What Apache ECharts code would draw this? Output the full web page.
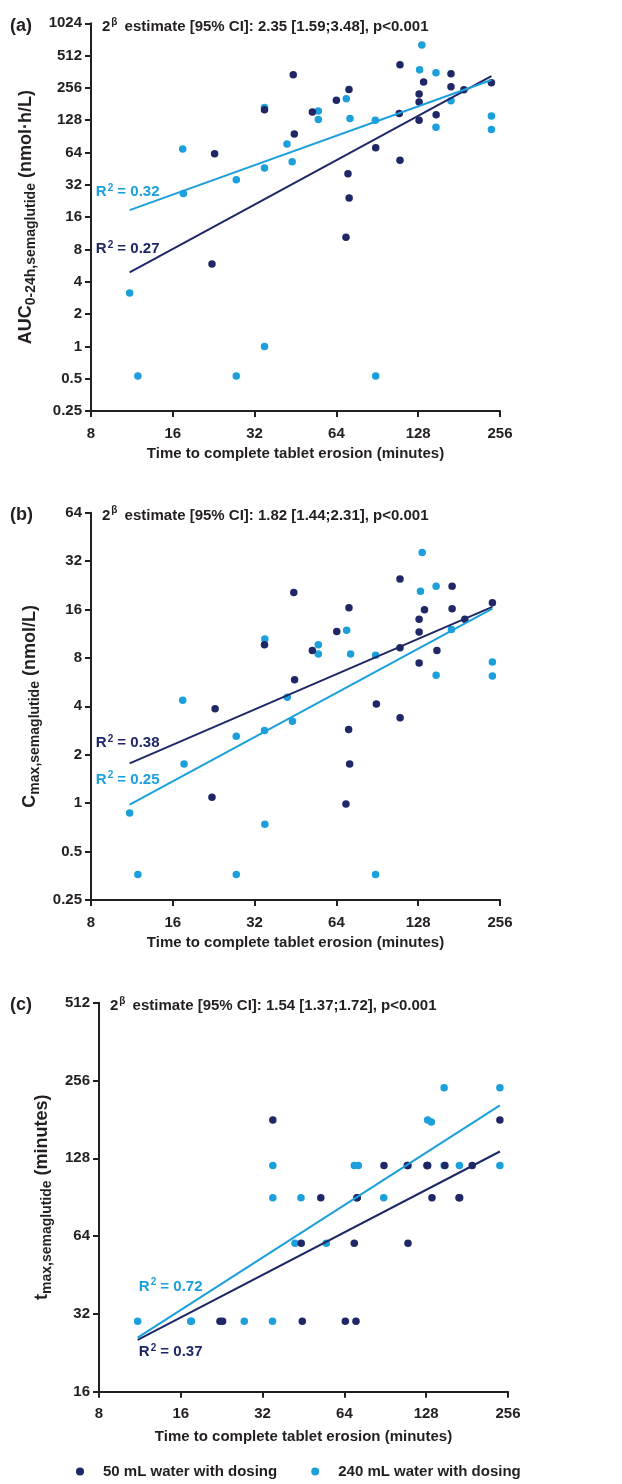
<!DOCTYPE html>
<html><head><meta charset="utf-8">
<script src="https://cdn.jsdelivr.net/npm/echarts@6/dist/echarts.min.js"></script>
<style>html,body{margin:0;padding:0;background:#fff}#c{width:622px;height:1484px}</style>
</head><body><div id="c"></div>
<script>
// ---- data ----
const seriesNames = ['50 mL water with dosing', '240 mL water with dosing'];
const xTicks = [8, 16, 32, 64, 128, 256];
const yTicksA = [0.25, 0.5, 1, 2, 4, 8, 16, 32, 64, 128, 256, 512, 1024];
const yTicksB = [0.25, 0.5, 1, 2, 4, 8, 16, 32, 64];
const yTicksC = [16, 32, 64, 128, 256, 512];
const panelLetters = ['(a)', '(b)', '(c)'];
const estimates = ['2.35 [1.59;3.48], p<0.001', '1.82 [1.44;2.31], p<0.001', '1.54 [1.37;1.72], p<0.001'];

// AUC0-24h (nmol·h/L) vs erosion time (min)
const auc50 = [[22.8,62.4],[44.4,340],[34.8,160],[44.8,95],[52.2,153],[64,197],[71.2,248],[70.6,40.6],[71.3,24.1],[89.3,71],[109.7,421],[109,148],[109.7,54.2],[129,225],[129,189],[129,128],[134,290],[149,144],[169,347],[169,263],[188.5,246],[238,286],[22.3,5.86],[69.4,10.4]];
const auc240 = [[17.4,69],[17.5,26.6],[27.4,35.6],[34.8,168],[34.8,46],[42.1,76.7],[44,52.5],[54.9,156],[54.9,130],[69.6,203],[71.8,133],[89,128],[132,642],[129.5,378],[148.8,354],[148.8,110],[169,194],[238,140],[238,105],[11.1,3.15],[11.9,0.53],[27.4,0.53],[34.8,1.0],[89.3,0.53]];
// Cmax (nmol/L)
const cmax50 = [[44.6,20.4],[34.8,9.67],[52.2,8.9],[44.9,5.86],[64.2,11.7],[71.2,16.4],[109.7,24.8],[109.7,9.26],[129,13.9],[129,11.6],[129,7.45],[135,15.96],[150,8.9],[170.6,22.3],[170.6,16.2],[190,13.9],[240,17.6],[22.9,3.87],[22.3,1.09],[89.8,4.13],[109.8,3.4],[71,2.87],[71.6,1.75],[69.4,0.99]];
const cmax240 = [[34.9,10.5],[54.9,9.67],[54.9,8.45],[69.8,11.9],[72.2,8.45],[89.2,8.3],[132.4,36.2],[130.5,20.8],[149,22.3],[149,6.24],[169.6,12.0],[240,7.55],[240,6.18],[17.4,4.36],[42.2,4.55],[27.4,2.61],[34.8,2.83],[44.1,3.23],[17.6,1.75],[11.1,0.87],[11.9,0.36],[27.4,0.36],[34.9,0.74],[89.2,0.36]];
// tmax (minutes)
const tmax50 = [[22.3,30],[22.8,30],[34.9,180],[44.4,60],[44.8,30],[52.4,90],[64.5,30],[69.6,60],[70.6,30],[71.2,90],[71.3,90],[89.5,120],[109,120],[109.7,120],[109.7,60],[129,120],[129,120],[129.6,120],[134.4,90],[150,120],[169,90],[170,90],[189,120],[239,180]];
const tmax240 = [[11.1,30],[17.4,30],[17.5,30],[27.4,30],[34.8,30],[34.9,120],[34.9,90],[42.1,60],[44.3,90],[54.9,60],[69.6,120],[72,120],[89.3,90],[129.6,180],[133.7,177],[149,240],[149,120],[169.6,120],[239,240],[239,120]];
// fitted regression lines (start, end)
const fitAuc50 = [[11.1,4.9],[238,330]];
const fitAuc240 = [[11.1,18.6],[238,303]];
const fitCmax50 = [[11.1,1.77],[240,16.6]];
const fitCmax240 = [[11.1,0.98],[240,16.2]];
const fitTmax50 = [[11.1,25.4],[239,136]];
const fitTmax240 = [[11.1,25.9],[239,205]];
const r2 = { auc50: '0.27', auc240: '0.32', cmax50: '0.38', cmax240: '0.25', tmax50: '0.37', tmax240: '0.72' };

// ---- style ----
const NAVY = '#1f2766';
const LIGHT = '#1ba0dc';
const FONT = '"Liberation Sans", Arial, sans-serif';
const BLACK = '#231f20';

const chart = echarts.init(document.getElementById('c'), null, {renderer: 'canvas'});

const grids = [
  {left: 91, top: 23.3, width: 409, height: 387.7},
  {left: 91, top: 512.7, width: 409, height: 387.3},
  {left: 99, top: 1002.7, width: 409, height: 389}
];
const yRanges = [yTicksA, yTicksB, yTicksC];

function fmt(v) { return String(+v.toPrecision(6)); }

const xNameGap = [35, 35, 38];
const xAxes = grids.map((g, i) => ({
  type: 'log', logBase: 2, gridIndex: i, min: xTicks[0], max: xTicks[xTicks.length - 1], interval: 1,
  axisLine: {lineStyle: {color: BLACK, width: 2}},
  axisTick: {length: 6, lineStyle: {color: BLACK, width: 2}},
  axisLabel: {margin: 15, color: BLACK, fontSize: 15, fontWeight: 'bold', fontFamily: FONT, formatter: fmt},
  splitLine: {show: false},
  name: 'Time to complete tablet erosion (minutes)', nameLocation: 'middle', nameGap: xNameGap[i],
  nameTextStyle: {color: BLACK, fontSize: 15, fontWeight: 'bold', fontFamily: FONT}
}));

const yNames = [
  '{m|AUC}{s|0-24h,semaglutide}{m| (nmol·h/L)}',
  '{m|C}{s|max,semaglutide}{m| (nmol/L)}',
  '{m|t}{s|max,semaglutide}{m| (minutes)}'
];
const yNameGap = [42, 42, 44];
const yAxes = grids.map((g, i) => ({
  type: 'log', logBase: 2, gridIndex: i, min: yRanges[i][0], max: yRanges[i][yRanges[i].length - 1], interval: 1,
  axisLine: {lineStyle: {color: BLACK, width: 2}},
  axisTick: {length: 6, lineStyle: {color: BLACK, width: 2}},
  axisLabel: {margin: 9, color: BLACK, fontSize: 15, fontWeight: 'bold', fontFamily: FONT, formatter: fmt},
  splitLine: {show: false},
  name: yNames[i], nameLocation: 'middle', nameRotate: 90, nameGap: yNameGap[i],
  nameTextStyle: {
    rich: {
      m: {fontSize: 18, fontWeight: 'bold', fontFamily: FONT, color: BLACK, lineHeight: 24, verticalAlign: 'middle'},
      s: {fontSize: 14, fontWeight: 'bold', fontFamily: FONT, color: BLACK, lineHeight: 24, verticalAlign: 'bottom'}
    }
  }
}));

function scatter(name, data, color, idx) {
  return {type: 'scatter', name, data, xAxisIndex: idx, yAxisIndex: idx, symbol: 'circle', symbolSize: 7.5,
    itemStyle: {color, opacity: 1}, emphasis: {disabled: true}, z: color === NAVY ? 3 : 2};
}
function fit(name, data, color, idx, r2txt, lab) {
  const d = data.map((p, k) => k === 0 ? {
    value: p,
    label: {show: true, position: lab.pos, distance: lab.dist, offset: lab.off, align: 'center',
      formatter: '{r|R}{s|2}{r| = ' + r2txt + '}',
      rich: {
        r: {fontSize: 15, fontWeight: 'bold', fontFamily: FONT, color, lineHeight: 18},
        s: {fontSize: 10, fontWeight: 'bold', fontFamily: FONT, color, lineHeight: 18, verticalAlign: 'top', padding: [0, 0, 6, 1]}
      }}
  } : {value: p});
  return {type: 'line', name, data: d, xAxisIndex: idx, yAxisIndex: idx, showSymbol: true, symbol: 'circle', symbolSize: 0.01,
    lineStyle: {color, width: 2}, itemStyle: {color}, emphasis: {disabled: true}, z: 4, silent: true, animation: false};
}

const series = [
  scatter(seriesNames[1], auc240, LIGHT, 0), scatter(seriesNames[0], auc50, NAVY, 0),
  scatter(seriesNames[1], cmax240, LIGHT, 1), scatter(seriesNames[0], cmax50, NAVY, 1),
  scatter(seriesNames[1], tmax240, LIGHT, 2), scatter(seriesNames[0], tmax50, NAVY, 2),
  fit('fitA50', fitAuc50, NAVY, 0, r2.auc50, {pos: 'top', dist: 14, off: [-2, 0]}),
  fit('fitA240', fitAuc240, LIGHT, 0, r2.auc240, {pos: 'top', dist: 9, off: [-2, 0]}),
  fit('fitB50', fitCmax50, NAVY, 1, r2.cmax50, {pos: 'top', dist: 11, off: [-2, 0]}),
  fit('fitB240', fitCmax240, LIGHT, 1, r2.cmax240, {pos: 'top', dist: 16, off: [-2, 0]}),
  fit('fitC50', fitTmax50, NAVY, 2, r2.tmax50, {pos: 'bottom', dist: 3, off: [33, 0]}),
  fit('fitC240', fitTmax240, LIGHT, 2, r2.tmax240, {pos: 'top', dist: 42, off: [33, 0]})
];

const titleY = [24, 512.7, 1003];
const titleX = [102, 102, 110];
const titles = [];
titleY.forEach((y, i) => {
  titles.push({text: panelLetters[i], left: 10, top: y - 9, padding: 0,
    textStyle: {fontSize: 18, fontWeight: 'bold', fontFamily: FONT, color: BLACK, lineHeight: 22}});
  titles.push({text: '{m|2}{s|β}{m| estimate [95% CI]: ' + estimates[i] + '}', left: titleX[i], top: y - 7, padding: 0,
    textStyle: {rich: {
      m: {fontSize: 15, fontWeight: 'bold', fontFamily: FONT, color: BLACK, lineHeight: 20},
      s: {fontSize: 10, fontFamily: FONT, color: BLACK, lineHeight: 20, verticalAlign: 'top', padding: [0, 3, 6, 1]}
    }}});
});

chart.setOption({
  animation: false,
  backgroundColor: '#fff',
  title: titles,
  grid: grids,
  xAxis: xAxes,
  yAxis: yAxes,
  legend: {
    data: seriesNames.map(n => ({name: n, icon: 'circle'})),
    left: 76, top: 1464, padding: 0, itemWidth: 36, itemHeight: 8, itemGap: 34,
    textStyle: {fontSize: 15, fontWeight: 'bold', fontFamily: FONT, color: BLACK},
    selectedMode: false
  },
  series
});
</script></body></html>
